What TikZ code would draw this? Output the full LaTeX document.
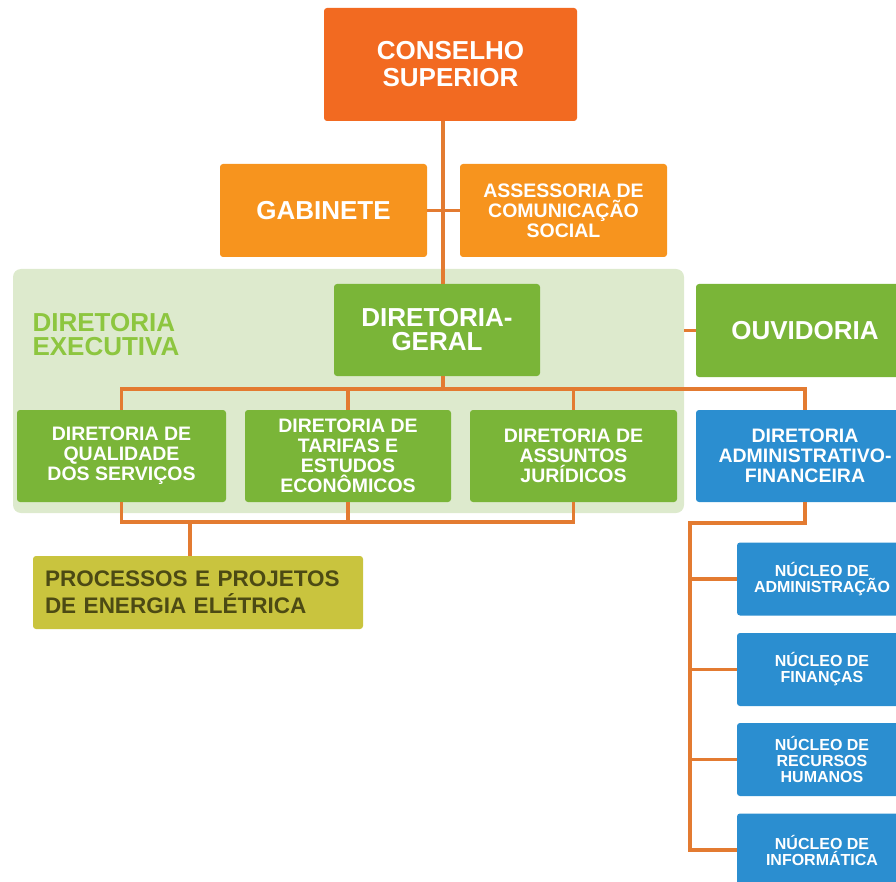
\documentclass[tikz,border=0pt]{standalone}
\usepackage{fontspec}
\setmainfont{Liberation Sans}
\usetikzlibrary{positioning}
\definecolor{corConselho}{HTML}{F26A21}
\definecolor{corLaranja}{HTML}{F7941E}
\definecolor{corVerde}{HTML}{7AB538}
\definecolor{corFundo}{HTML}{DDEACD}
\definecolor{corTitulo}{HTML}{8DC63F}
\definecolor{corAzul}{HTML}{2B8ED0}
\definecolor{corOliva}{HTML}{C9C43E}
\definecolor{corTxtOliva}{HTML}{4C4A14}
\definecolor{corLinha}{HTML}{E37B31}
\tikzset{
  caixa/.style={ rounded corners=3pt, text=white, align=center, inner sep=0pt }
}
\tikzset{
  caixaCS/.style={ caixa, fill=corConselho, minimum width=253pt, minimum height=113pt,
    font=\bfseries\fontsize{26}{27}\selectfont }
}
\tikzset{
  caixaLar/.style={ caixa, fill=corLaranja, minimum width=207pt, minimum height=93pt }
}
\tikzset{
  caixaVerde/.style={ caixa, fill=corVerde, minimum height=92pt }
}
\tikzset{
  caixaAzul/.style={ caixa, fill=corAzul, minimum width=170pt, minimum height=73pt,
    font=\bfseries\fontsize{16}{16}\selectfont }
}
\tikzset{
  fonteG/.style={ font=\bfseries\fontsize{26}{24}\selectfont }
}
\tikzset{
  fonteP/.style={ font=\bfseries\fontsize{19.5}{20}\selectfont }
}
\tikzset{
  ligacao/.style={ draw=corLinha, line width=3.5pt }
}

\begin{document}
\begin{tikzpicture}[x=1pt, y=-1pt]
      \useasboundingbox (0,0) rectangle (896,882);
      % fundo da diretoria executiva
      \node[fill=corFundo, rounded corners=8pt, minimum width=671pt, minimum height=244pt,
        inner sep=0pt] (exec) at (348.5, 391) {};
      \node[anchor=west, align=left, text=corTitulo, font=\bfseries\fontsize{26}{24}\selectfont]
        (execTit) at (29, 335) {DIRETORIA\\EXECUTIVA};

      \node[caixaCS] (cs) at (450.5, 64.5) {CONSELHO\\SUPERIOR};
      \node[caixaLar, fonteG] (gab) at (323.5, 210.5) {GABINETE};
      \node[caixaLar, fonteP] (ascom) at (563.5, 210.5) {ASSESSORIA DE\\COMUNICAÇÃO\\SOCIAL};

      \node[caixaVerde, fonteG, minimum width=206pt] (dg) at (437, 330) {DIRETORIA-\\GERAL};
      \node[caixaVerde, fonteG, minimum width=218pt, minimum height=93pt] (ouv) at (805, 330.5) {OUVIDORIA};

      \node[caixaVerde, fonteP, minimum width=209pt] (dqs) at (121.5, 456) {DIRETORIA DE\\QUALIDADE\\DOS SERVIÇOS};
      \node[caixaVerde, fonteP, minimum width=206pt] (dtee) at (348, 456) {DIRETORIA DE\\TARIFAS E\\ESTUDOS\\ECONÔMICOS};
      \node[caixaVerde, fonteP, minimum width=207pt] (daj) at (573.5, 456) {DIRETORIA DE\\ASSUNTOS\\JURÍDICOS};
      \node[caixaVerde, fonteP, fill=corAzul, minimum width=218pt] (daf) at (805, 456) {DIRETORIA\\ADMINISTRATIVO-\\FINANCEIRA};

      \node[caixa, fill=corOliva, text=corTxtOliva, minimum width=330pt, minimum height=73pt,
        text width=306pt, align=left, font=\bfseries\fontsize{22.5}{27}\selectfont]
        (ppe) at (198, 592.5) {PROCESSOS E PROJETOS\\DE ENERGIA ELÉTRICA};

      \node[caixaAzul] (nucAdm) at (822, 579) {NÚCLEO DE\\ADMINISTRAÇÃO};
      \node[caixaAzul] (nucFin) at (822, 669.5) {NÚCLEO DE\\FINANÇAS};
      \node[caixaAzul] (nucRH) at (822, 759.5) {NÚCLEO DE\\RECURSOS\\HUMANOS};
      \node[caixaAzul] (nucInf) at (822, 850) {NÚCLEO DE\\INFORMÁTICA};

      \coordinate (eixo) at (443, 0);
      \coordinate (barra1) at (443, 389);
      \coordinate (barra2) at (190, 522);
      \coordinate (tronco) at (690, 523);

      \draw[ligacao] (cs.south -| eixo) -- (dg.north -| eixo);
      \draw[ligacao] (gab.east) -- (ascom.west);
      \draw[ligacao] (ouv.west) -- (ouv.west -| exec.east);
      \draw[ligacao] (dg.south -| eixo) -- (barra1);
      \draw[ligacao] (dqs.north) |- (barra1) -| (daf.north);
      \draw[ligacao] (dtee.north) -- (dtee.north |- barra1);
      \draw[ligacao] (daj.north) -- (daj.north |- barra1);
      \draw[ligacao] (dqs.south) |- (daj.south |- barra2) -- (daj.south);
      \draw[ligacao] (dtee.south) -- (dtee.south |- barra2);
      \draw[ligacao] (barra2) -- (ppe.north -| barra2);
      \draw[ligacao] (daf.south) |- (tronco) -- (tronco |- nucInf.west) -- (nucInf.west);
      \draw[ligacao] (nucAdm.west -| tronco) -- (nucAdm.west);
      \draw[ligacao] (nucFin.west -| tronco) -- (nucFin.west);
      \draw[ligacao] (nucRH.west -| tronco) -- (nucRH.west);
    \end{tikzpicture}
\end{document}
